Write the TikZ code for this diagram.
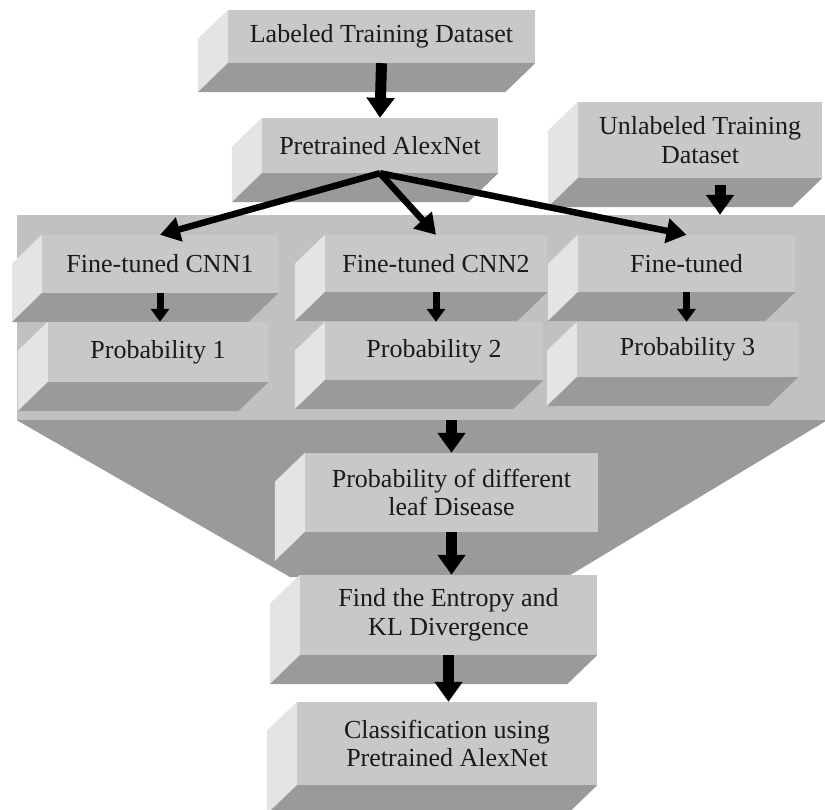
\documentclass[tikz,border=0pt]{standalone}
\usepackage{fontspec}
\setmainfont{Liberation Serif}
\usetikzlibrary{arrows.meta,calc}
\definecolor{frontc}{RGB}{200,200,200}
\definecolor{panelc}{RGB}{193,193,193}
\definecolor{bottomc}{RGB}{154,154,154}
\definecolor{sidec}{RGB}{228,228,228}
\definecolor{txtc}{RGB}{25,25,30}
\newcommand\slabfaces[1]{%
  \fill[sidec] (#1.north west) -- (#1.south west) -- ++(-30,29) -- ($(#1.north west)+(-30,29)$) -- cycle;
  \fill[bottomc] (#1.south west) -- (#1.south east) -- ++(-30,29) -- ($(#1.south west)+(-30,29)$) -- cycle;}
\tikzset{
  slab/.style={fill=frontc, inner sep=0pt, align=center, text=txtc,
    font=\fontsize{26}{28.5}\selectfont},
  bigarrow/.style={line width=11pt, -{Triangle[length=20pt,width=27pt]}},
  smallarrow/.style={line width=7pt, -{Triangle[length=13pt,width=18pt]}},
  diagarrow/.style={line width=6.5pt, -{Triangle[length=20pt,width=24pt]}}
}
\begin{document}
\begin{tikzpicture}[x=1pt,y=-1pt]
\useasboundingbox (0,0) rectangle (825,809);
% big panel and funnel
\node[fill=panelc, inner sep=0pt, minimum width=810pt, minimum height=205pt] (panel) at (422,317.5) {};
\fill[bottomc] (panel.south west) -- (panel.south east) -- (567,577) -- (290,577) -- cycle;
% top boxes
\node[slab, minimum width=307pt, minimum height=53pt] (lab) at (381.5,36.5) {Labeled Training Dataset};
\slabfaces{lab}
\node[slab, minimum width=236pt, minimum height=55pt] (pre) at (380,145.5) {Pretrained AlexNet};
\slabfaces{pre}
\node[slab, minimum width=244pt, minimum height=76pt] (unl) at (700,140) {Unlabeled Training\\Dataset};
\slabfaces{unl}
% inner boxes
\node[slab, minimum width=236pt, minimum height=58pt] (cnn1) at (160,264) {Fine-tuned CNN1};
\slabfaces{cnn1}
\node[slab, minimum width=220pt, minimum height=60pt] (p1) at (158,352) {Probability 1};
\slabfaces{p1}
\node[slab, minimum width=222pt, minimum height=57pt] (cnn2) at (436,263.5) {Fine-tuned CNN2};
\slabfaces{cnn2}
\node[slab, minimum width=218pt, minimum height=58pt] (p2) at (434,351) {Probability 2};
\slabfaces{p2}
\node[slab, minimum width=217pt, minimum height=57pt] (ft3) at (686.5,263.5) {Fine-tuned};
\slabfaces{ft3}
\node[slab, minimum width=221pt, minimum height=55pt] (p3) at (687.5,349.5) {Probability 3};
\slabfaces{p3}
% lower boxes
\node[slab, minimum width=293pt, minimum height=79pt] (leaf) at (451.5,492.5) {Probability of different\\leaf Disease};
\slabfaces{leaf}
\node[slab, minimum width=297pt, minimum height=80pt] (ent) at (448.5,615) {Find the Entropy and\\KL Divergence};
\slabfaces{ent}
\node[slab, minimum width=300pt, minimum height=83pt] (cls) at (447,743.5) {Classification using\\Pretrained AlexNet};
\slabfaces{cls}
% connectors
\draw[bigarrow] (lab.south) -- (pre.north);
\draw[diagarrow] (pre.south) -- (cnn1.north);
\draw[diagarrow] (pre.south) -- (cnn2.north);
\draw[diagarrow] (pre.south) -- (ft3.north);
\coordinate (u1) at ($(unl.south)+(20,7)$);
\draw[bigarrow] (u1) -- (u1 |- panel.north);
\draw[smallarrow] (cnn1.south) -- (cnn1.south |- p1.north);
\draw[smallarrow] (cnn2.south) -- (cnn2.south |- p2.north);
\draw[smallarrow] (ft3.south) -- (ft3.south |- p3.north);
\draw[bigarrow] (leaf.north |- panel.south) -- (leaf.north);
\draw[bigarrow] (leaf.south) -- (leaf.south |- ent.north);
\draw[bigarrow] (ent.south) -- (ent.south |- cls.north);
\end{tikzpicture}
\end{document}
